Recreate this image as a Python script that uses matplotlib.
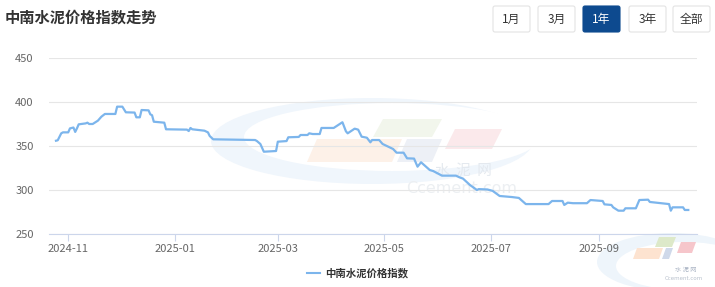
import matplotlib
matplotlib.use("Agg")
import matplotlib.pyplot as plt
import matplotlib.dates as mdates
import matplotlib.transforms as mtransforms
from matplotlib.patches import Ellipse, Polygon, FancyBboxPatch
import pandas as pd

plt.rcParams['font.family'] = ['Noto Sans CJK SC', 'DejaVu Sans']

title = "中南水泥价格指数走势"
series_name = "中南水泥价格指数"
buttons = ["1月", "3月", "1年", "3年", "全部"]
active_button = "1年"

dates = ['2024-10-25','2024-10-26','2024-10-28','2024-10-29','2024-11-01','2024-11-02','2024-11-04','2024-11-05',
         '2024-11-06','2024-11-07','2024-11-11','2024-11-12','2024-11-13','2024-11-15','2024-11-18','2024-11-20',
         '2024-11-22','2024-11-28','2024-11-29','2024-12-02','2024-12-04','2024-12-09','2024-12-10','2024-12-12',
         '2024-12-13','2024-12-17','2024-12-18','2024-12-19','2024-12-20','2024-12-26','2024-12-27','2025-01-08',
         '2025-01-09','2025-01-10','2025-01-11','2025-01-18','2025-01-20','2025-01-21','2025-01-23','2025-02-16',
         '2025-02-17','2025-02-19','2025-02-21','2025-02-28','2025-03-01','2025-03-06','2025-03-07','2025-03-13',
         '2025-03-14','2025-03-18','2025-03-19','2025-03-21','2025-03-25','2025-03-26','2025-04-02','2025-04-07',
         '2025-04-09','2025-04-10','2025-04-14','2025-04-16','2025-04-18','2025-04-21','2025-04-23','2025-04-24',
         '2025-04-28','2025-04-30','2025-05-06','2025-05-08','2025-05-12','2025-05-14','2025-05-18','2025-05-20',
         '2025-05-22','2025-05-27','2025-05-29','2025-06-03','2025-06-11','2025-06-13','2025-06-15','2025-06-19',
         '2025-06-23','2025-06-24','2025-06-29','2025-07-02','2025-07-06','2025-07-13','2025-07-17','2025-07-21',
         '2025-08-03','2025-08-05','2025-08-11','2025-08-12','2025-08-14','2025-08-17','2025-08-25','2025-08-27',
         '2025-09-03','2025-09-04','2025-09-08','2025-09-09','2025-09-12','2025-09-15','2025-09-16','2025-09-22',
         '2025-09-24','2025-09-29','2025-09-30','2025-10-11','2025-10-12','2025-10-13','2025-10-19','2025-10-20',
         '2025-10-22']
values = [356, 356.5, 364.4, 365.5, 365.5, 370, 371, 366, 370, 374.6, 375.7, 376.5, 375, 375, 378.8, 383.3,
          386.4, 386.4, 394.7, 394.7, 388.3, 388, 382.6, 382.6, 390.9, 390.5, 386, 385, 377.6, 376.5, 369, 368.6,
          367, 370.5, 369, 367.4, 365.5, 361.4, 357.6, 356.8, 355.7, 352.3, 343.5, 344.3, 354.9, 355.6, 359.9, 360.3,
          362.5, 362.5, 364.4, 363.6, 363.6, 370.5, 370.5, 377, 366.7, 364.4, 369.7, 368.6, 360.6, 359.4, 354.2, 356.8,
          356.8, 352.3, 346.6, 342.4, 342.4, 336, 335.7, 326.5, 331.5, 322.7, 321.5, 316.3, 316.3, 314.4, 313, 305.7,
          300, 301, 300.6, 299, 293.2, 292, 291, 284, 284, 287.5, 287.5, 283, 285.6, 285, 285, 288.6,
          287.5, 283.7, 283, 280.3, 276.5, 276.5, 279.2, 279.2, 288.6, 289, 286.4, 284, 276.5, 280.3, 280.3, 277.3,
          277.3]
y_ticks = [250, 300, 350, 400, 450]
x_ticks = ['2024-11-01', '2025-01-01', '2025-03-01', '2025-05-01', '2025-07-01', '2025-09-01']
x_range = ['2024-10-21', '2025-10-27']

W, H = 715, 287
fig = plt.figure(figsize=(W / 100, H / 100), dpi=100)
fig.patch.set_facecolor('white')
px = mtransforms.Affine2D().scale(1 / W, -1 / H).translate(0, 1) + fig.transFigure

# ---- watermark (background layer) ----
def para(x0, x1, y0, y1, sk, color, z=0.5):
    fig.patches.append(Polygon([(x0 + sk, y0), (x1 + sk, y0), (x1, y1), (x0, y1)], closed=True,
                               facecolor=color, edgecolor='none', transform=px, zorder=z))

fig.patches.append(Ellipse((372, 141), 322, 86, facecolor='#f0f6fc', edgecolor='none', transform=px, zorder=0.2))
fig.patches.append(Ellipse((392, 137), 296, 68, facecolor='white', edgecolor='none', transform=px, zorder=0.3))
para(307, 392, 139, 162, 10, '#fdf1e8')
para(373, 432, 119, 137, 10, '#f2f6ec')
para(397, 432, 139, 162, 10, '#edf0f6')
para(445, 492, 129, 149, 10, '#fbe9eb')
fig.text(463 / W, 1 - 171 / H, "水  泥  网", fontsize=10.5, color='#e4e9ef', ha='center', va='center', zorder=0.6)
fig.text(462 / W, 1 - 188.5 / H, "Ccement.com", fontsize=11.5, color='#eceff2', ha='center', va='center',
         family='DejaVu Sans', zorder=0.6)

fig.patches.append(Ellipse((672, 262), 150, 58, facecolor='#eef5fb', edgecolor='none', transform=px, zorder=0.2))
fig.patches.append(Ellipse((684, 266), 136, 48, facecolor='white', edgecolor='none', transform=px, zorder=0.3))
para(633, 659, 248, 259, 4, '#fde3d0')
para(655, 672, 237, 247, 4, '#dde9c9')
para(662, 669, 248, 259, 4, '#cfd9ea')
para(677, 692, 242, 253, 4, '#f6c6cb')
fig.text(686 / W, 1 - 270 / H, "水 泥 网", fontsize=4.5, color='#aab4c4', ha='center', va='center', zorder=0.6)
fig.text(684 / W, 1 - 278.5 / H, "Ccement.com", fontsize=4, color='#b8c0cc', ha='center', va='center',
         family='DejaVu Sans', zorder=0.6)

# ---- main axes ----
ax = fig.add_axes([49 / W, 1 - 234 / H, (697 - 49) / W, (234 - 58) / H])
ax.set_facecolor('none')
ax.set_zorder(1)
d = pd.to_datetime(dates)
ax.plot(d, values, color='#7cb5ec', linewidth=1.6, solid_joinstyle='round', zorder=3)
ax.set_ylim(250, 450)
ax.set_xlim(pd.to_datetime(x_range[0]), pd.to_datetime(x_range[1]))
ax.set_yticks(y_ticks)
ax.set_xticks(pd.to_datetime(x_ticks))
ax.xaxis.set_major_formatter(mdates.DateFormatter('%Y-%m'))
ax.grid(axis='y', color='#e6e6e6', linewidth=0.8)
ax.set_axisbelow(True)
for s in ['top', 'right', 'left']:
    ax.spines[s].set_visible(False)
ax.spines['bottom'].set_color('#ccd6eb')
ax.spines['bottom'].set_linewidth(0.8)
ax.tick_params(axis='y', length=0, pad=11, labelsize=8, labelcolor='#666666')
ax.tick_params(axis='x', length=5, width=0.8, color='#ccd6eb', pad=2, labelsize=8, labelcolor='#666666')

# ---- title and buttons ----
fig.text(5 / W, 1 - 18 / H, title, fontsize=11, fontweight='bold', color='#333333', ha='left', va='center')
bx = [493, 538, 583, 629, 673]
for b, x0 in zip(buttons, bx):
    act = (b == active_button)
    fig.patches.append(FancyBboxPatch((x0, 6), 37, 26, boxstyle='round,pad=0,rounding_size=2',
                                      facecolor='#0d4a8f' if act else 'white',
                                      edgecolor='#0d4a8f' if act else '#e3e3e3', linewidth=0.8,
                                      transform=px, zorder=2))
    fig.text((x0 + 18.5) / W, 1 - 19 / H, b, fontsize=8.5, color='white' if act else '#333333',
             ha='center', va='center', zorder=3)

# ---- legend ----
fig.lines.append(plt.Line2D([307 / W, 320 / W], [1 - 273 / H, 1 - 273 / H], color='#7cb5ec',
                            linewidth=1.5, transform=fig.transFigure))
fig.text(325 / W, 1 - 273 / H, series_name, fontsize=7.5, fontweight='bold', color='#333333',
         ha='left', va='center')

fig.savefig('out.png', dpi=100)
